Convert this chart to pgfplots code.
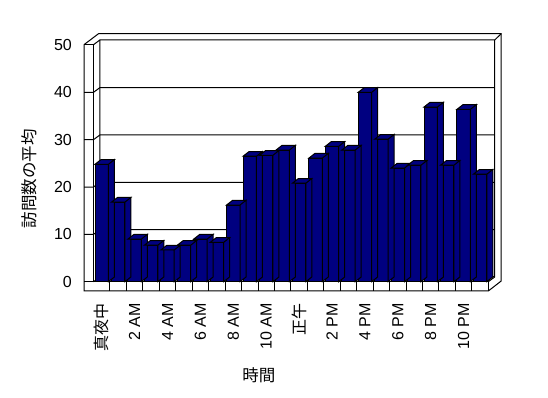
\documentclass[border=0pt]{standalone}
\usepackage{pgfplots}
\usepackage{pgfplotstable}
\pgfplotsset{compat=1.18}
\usepackage{fontspec}
\setmainfont{Liberation Sans}
\newfontfamily\cjk{Noto Sans CJK JP}
\definecolor{navybar}{RGB}{0,0,128}

\pgfplotstableread{
x v
0 24.8
1 16.8
2 9.0
3 7.7
4 6.7
5 7.7
6 9.0
7 8.3
8 16.2
9 26.5
10 26.7
11 27.8
12 20.8
13 26.1
14 28.6
15 27.8
16 40.0
17 30.1
18 24.0
19 24.6
20 36.9
21 24.6
22 36.4
23 22.7
}\visits

% top and right side faces of a bar, drawn at the top of the bar
\pgfdeclareplotmark{prism}{%
  \pgfmathsetlengthmacro\h{\barval*4.734pt}%
  \pgfpathmoveto{\pgfqpoint{6.7pt}{0pt}}%
  \pgfpathlineto{\pgfqpoint{12.7pt}{4.7pt}}%
  \pgfpathlineto{\pgfpoint{12.7pt}{4.7pt-\h}}%
  \pgfpathlineto{\pgfpoint{6.7pt}{-\h}}%
  \pgfpathclose
  \pgfpathmoveto{\pgfqpoint{-6.7pt}{0pt}}%
  \pgfpathlineto{\pgfqpoint{6.7pt}{0pt}}%
  \pgfpathlineto{\pgfqpoint{12.7pt}{4.7pt}}%
  \pgfpathlineto{\pgfqpoint{-0.7pt}{4.7pt}}%
  \pgfpathclose
  \pgfusepathqfillstroke
}

\begin{document}
\begin{tikzpicture}
\useasboundingbox (0,0) rectangle (548pt,398pt);
\fill[white] (0,0) rectangle (548pt,398pt);
% 3D frame (walls, floor, gridlines)
\begin{scope}[x=1pt,y=-1pt,shift={(0pt,398pt)},line width=1pt,black,line join=miter]
\draw (84,44.7) -- (98.5,33.7) -- (501.2,33.7) -- (501.2,281) -- (488.3,291) -- (84,291) -- cycle;
\draw (93.5,44.7) -- (99.9,40) -- (494.7,40) -- (501.2,33.7);
\draw (494.7,40) -- (494.7,277) -- (488.3,281.7);
\draw (99.9,40) -- (99.9,277) -- (93.5,281.7);
\draw (99.9,277) -- (494.7,277);
\draw (84,44.7) -- (93.5,44.7) -- (93.5,281.7);
\draw (84,281.7) -- (488.3,281.7) -- (488.3,291);
\foreach \v in {10,20,30,40} {
  \pgfmathsetmacro\yf{281.7-4.734*\v}
  \pgfmathsetmacro\yb{277-4.734*\v}
  \draw (84,\yf) -- (93.5,\yf) -- (99.9,\yb) -- (494.7,\yb);
}
\foreach \k in {1,...,23} {
  \pgfmathsetmacro\xx{93.5+16.45*\k}
  \draw (\xx,281.7) -- (\xx,291);
}
\end{scope}

\begin{axis}[
  at={(93.5pt,116.3pt)}, anchor=south west,
  x=16.45pt, y=4.734pt,
  xmin=-0.5, xmax=23.5, ymin=0, ymax=50,
  clip=false,
  axis lines*=left,
  axis line style={draw=none},
  tick style={draw=none},
  major tick length=0pt,
  ytick={0,10,20,30,40,50},
  xtick={0,2,4,6,8,10,12,14,16,18,20,22},
  xticklabels={{\cjk 真夜中},2 AM,4 AM,6 AM,8 AM,10 AM,{\cjk 正午},2 PM,4 PM,6 PM,8 PM,10 PM},
  /pgf/number format/assume math mode=true,
  tick label style={font=\fontsize{16}{19}\selectfont},
  xticklabel style={rotate=90, anchor=east, inner sep=0pt},
  yticklabel style={anchor=east, inner sep=0pt},
  xticklabel shift=21.3pt,
  yticklabel shift=21.5pt,
  label style={font=\fontsize{16.5}{20}\selectfont},
  xlabel={\cjk 時間},
  ylabel={\cjk 訪問数の平均},
  xlabel style={at={(rel axis cs:0.419,-0.394)}, anchor=center},
  ylabel style={at={(rel axis cs:-0.1634,0.434)}, anchor=center},
]
\addplot[only marks, mark=prism,
  visualization depends on={rawy \as \barval},
  mark options={solid, fill=navybar, draw=black, line width=1pt}]
  table[x=x, y=v] {\visits};
\addplot[ybar, bar width=13.4pt, fill=navybar, draw=black, line width=1pt]
  table[x=x, y=v] {\visits};
\end{axis}
\end{tikzpicture}
\end{document}
